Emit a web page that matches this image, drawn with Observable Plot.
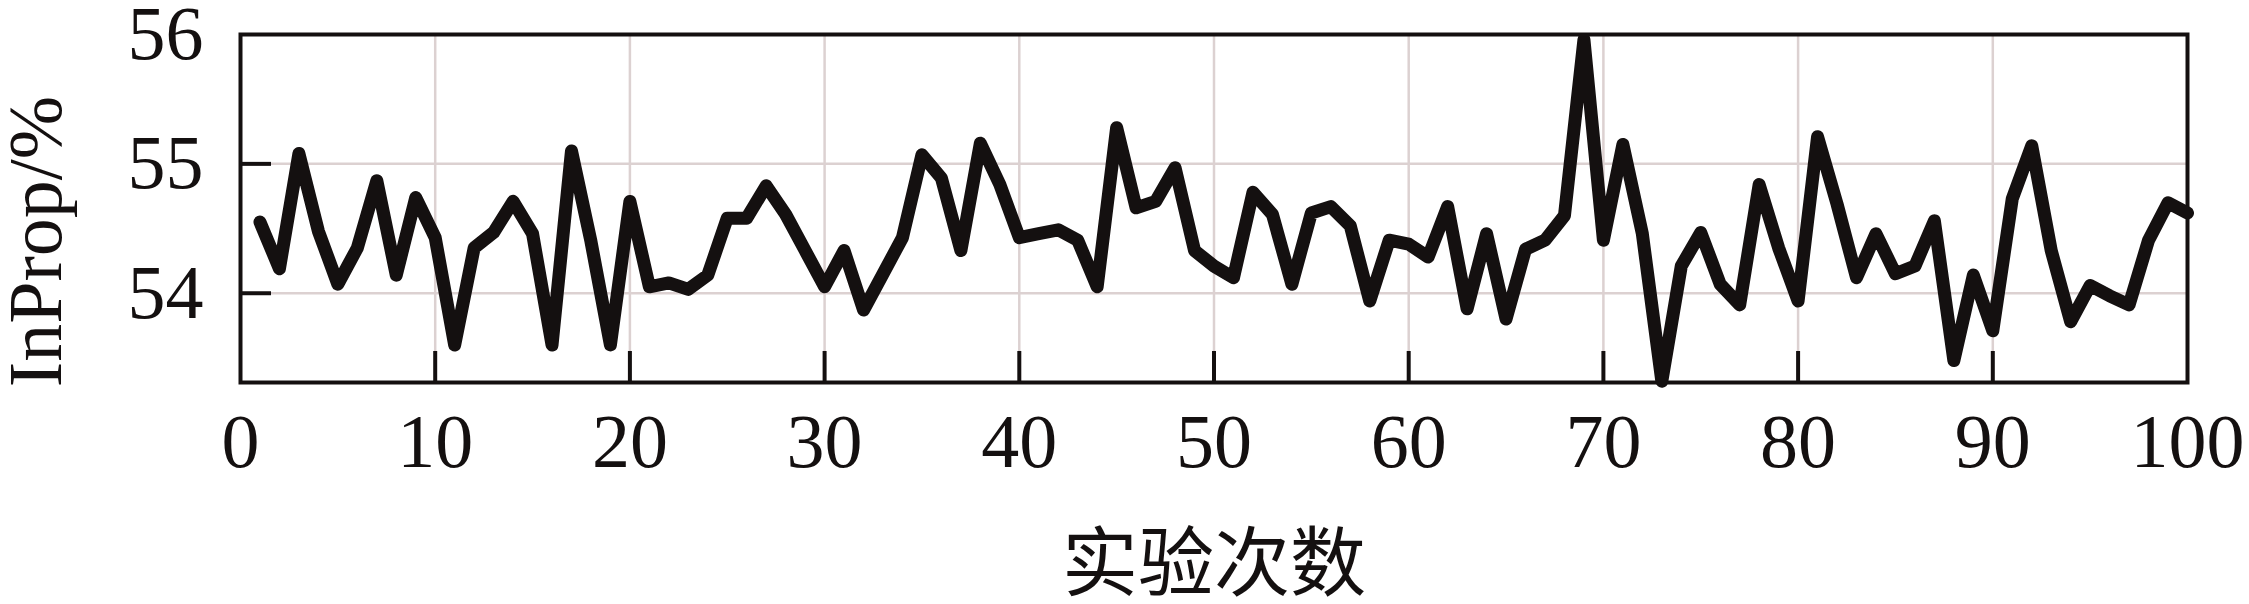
<!DOCTYPE html>
<html>
<head>
<meta charset="utf-8">
<script src="https://cdn.jsdelivr.net/npm/d3@7"></script>
<script src="https://cdn.jsdelivr.net/npm/@observablehq/plot@0.6"></script>
<style>
  html, body { margin: 0; padding: 0; background: #fff; }
  #chart svg { display: block; }
</style>
</head>
<body>
<div id="chart"></div>
<script>
// Trial numbers (实验次数)
const trials = [
  1,2,3,4,5,6,7,8,9,10,11,12,13,14,15,16,17,18,19,20,
  21,22,23,24,25,26,27,28,29,30,31,32,33,34,35,36,37,38,39,40,
  41,42,43,44,45,46,47,48,49,50,51,52,53,54,55,56,57,58,59,60,
  61,62,63,64,65,66,67,68,69,70,71,72,73,74,75,76,77,78,79,80,
  81,82,83,84,85,86,87,88,89,90,91,92,93,94,95,96,97,98,99,100
];
// InProp values (%)
const inProp = [
  54.55,54.19,55.08,54.48,54.07,54.35,54.87,54.14,54.74,54.43,
  53.60,54.35,54.47,54.71,54.46,53.60,55.10,54.40,53.60,54.71,
  54.05,54.08,54.03,54.14,54.58,54.58,54.83,54.61,54.33,54.05,
  54.33,53.87,54.15,54.43,55.07,54.89,54.33,55.16,54.84,54.43,
  54.46,54.49,54.41,54.05,55.28,54.66,54.71,54.97,54.33,54.21,
  54.12,54.78,54.61,54.07,54.62,54.67,54.52,53.94,54.41,54.38,
  54.28,54.67,53.88,54.46,53.80,54.34,54.41,54.60,55.96,54.41,
  55.15,54.46,53.32,54.21,54.47,54.07,53.91,54.84,54.35,53.94,
  55.21,54.69,54.12,54.46,54.15,54.21,54.56,53.48,54.14,53.71,
  54.73,55.14,54.33,53.78,54.06,53.98,53.91,54.41,54.70,54.62
];
const xTickLabels = [0,10,20,30,40,50,60,70,80,90,100];
const xInnerTicks = [10,20,30,40,50,60,70,80,90];
const yTickLabels = [54,55,56];
const yInnerTicks = [54,55];
const xDomain = [0,100];
const yDomain = [53.31,56];
const xTitle = "实验次数";
const yTitle = "InProp/%";

const ink = "#141010";
const gridColor = "#dcd1d1";
const serif = "'Liberation Serif', 'Times New Roman', Tinos, Times, serif";

const chart = Plot.plot({
  width: 2249,
  height: 604,
  marginTop: 34,
  marginBottom: 222,
  marginLeft: 240,
  marginRight: 62,
  style: {
    fontFamily: serif,
    fontSize: "76px",
    color: ink,
    background: "#fff",
    overflow: "visible"
  },
  x: { domain: xDomain },
  y: { domain: yDomain },
  marks: [
    Plot.gridX(xInnerTicks, { stroke: gridColor, strokeOpacity: 1, strokeWidth: 2.5 }),
    Plot.gridY(yInnerTicks, { stroke: gridColor, strokeOpacity: 1, strokeWidth: 2.5 }),
    Plot.frame({ stroke: ink, strokeWidth: 4 }),
    Plot.axisX(xInnerTicks, { tickSize: -31, strokeWidth: 4, stroke: ink, tickFormat: () => "", label: null }),
    Plot.axisY(yInnerTicks, { tickSize: -31, strokeWidth: 4, stroke: ink, tickFormat: () => "", label: null }),
    Plot.axisX(xTickLabels, { tickSize: 0, tickPadding: 31, label: null, fontSize: 76, fill: ink, fontFamily: serif, tickFormat: d => String(d) }),
    Plot.axisY(yTickLabels, { tickSize: 0, tickPadding: 37, label: null, fontSize: 76, fill: ink, fontFamily: serif, tickFormat: d => String(d) }),
    Plot.lineY(inProp, {
      x: trials,
      stroke: ink,
      strokeWidth: 13,
      strokeLinejoin: "round",
      strokeLinecap: "round"
    }),
    Plot.text([xTitle], {
      text: d => d,
      frameAnchor: "bottom",
      dy: 183,
      lineAnchor: "middle",
      textAnchor: "middle",
      fontFamily: "'Noto Sans CJK SC', sans-serif",
      fontSize: 76,
      fill: ink
    }),
    Plot.text([yTitle], {
      text: d => d,
      frameAnchor: "left",
      rotate: -90,
      dx: -204,
      dy: 33,
      lineAnchor: "middle",
      textAnchor: "middle",
      fontFamily: serif,
      fontSize: 76,
      fill: ink
    })
  ]
});
document.getElementById("chart").appendChild(chart);
</script>
</body>
</html>
